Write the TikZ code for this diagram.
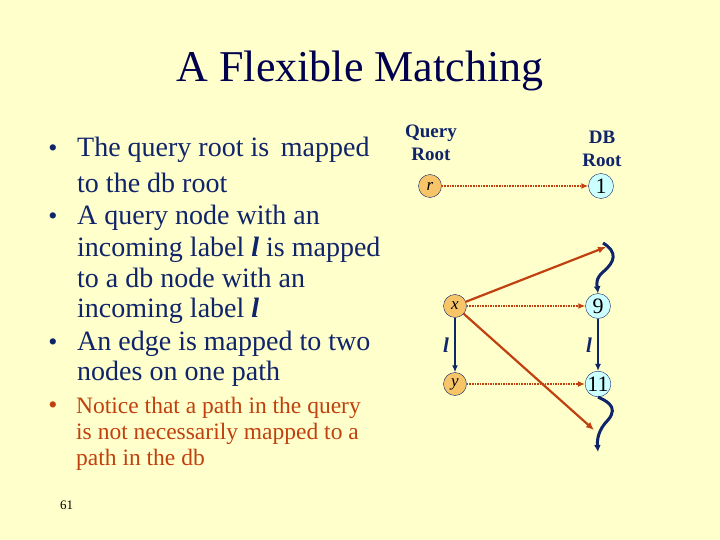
\documentclass[tikz,border=0pt]{standalone}
\usepackage{fontspec}
\setmainfont{Liberation Serif}
\usetikzlibrary{arrows.meta}
\definecolor{bg}{HTML}{FFFFCC}
\definecolor{navy}{HTML}{10246A}
\definecolor{dnavy}{HTML}{00004F}
\definecolor{rust}{HTML}{C0400F}
\definecolor{qfill}{HTML}{F8C468}
\definecolor{dfill}{HTML}{CCFFFF}
\tikzset{
  body/.style={anchor=base west,inner sep=0pt,text=navy,font=\fontsize{28}{32}\selectfont},
  note/.style={anchor=base west,inner sep=0pt,text=rust,font=\fontsize{23.5}{27}\selectfont},
  bul/.style={anchor=base,inner sep=0pt,font=\fontsize{26}{26}\selectfont},
  qnode/.style={circle,draw=navy,fill=qfill,minimum size=23pt,inner sep=0pt,font=\fontsize{17}{17}\selectfont\itshape},
  dnode/.style={circle,draw=navy,fill=dfill,minimum size=25pt,inner sep=0pt,font=\fontsize{22}{22}\selectfont},
  hdr/.style={align=center,text=navy,font=\fontsize{19}{23}\selectfont\bfseries},
  mapd/.style={rust,densely dotted,line width=1.6pt,-{Latex[length=7pt,width=6pt]}},
  maps/.style={rust,line width=2.2pt,-{Latex[length=8pt,width=7pt]}},
  edge/.style={navy,line width=1.6pt,-{Latex[length=7pt,width=6pt]}},
  wave/.style={navy,line width=3pt,-{Latex[length=7pt,width=7pt]}},
  lbl/.style={text=navy,font=\fontsize{21}{21}\selectfont\bfseries\itshape}
}
\begin{document}
\begin{tikzpicture}[x=1pt,y=-1pt]
\fill[bg] (0,0) rectangle (720,540);
\useasboundingbox (0,0) rectangle (720,540);
\node[text=dnavy,font=\fontsize{44}{48}\selectfont] (title) at (360,71) {A Flexible Matching};
% bullets
\node[bul,text=navy] (b1) at (53,157) {\textbullet};
\node[body] (t1a) at (77,157) {The query root is\, mapped};
\node[body] (t1b) at (77,193) {to the db root};
\node[bul,text=navy] (b2) at (53,225) {\textbullet};
\node[body] (t2a) at (77,225) {A query node with an};
\node[body] (t2b) at (77,256) {incoming label \textbf{\textit{l}} is mapped};
\node[body] (t2c) at (77,287) {to a db node with an};
\node[body] (t2d) at (77,317) {incoming label \textbf{\textit{l}}};
\node[bul,text=navy] (b3) at (53,350) {\textbullet};
\node[body] (t3a) at (77,350) {An edge is mapped to two};
\node[body] (t3b) at (77,380) {nodes on one path};
\node[bul,text=rust] (b4) at (53,413) {\textbullet};
\node[note] (t4a) at (76,413) {Notice that a path in the query};
\node[note] (t4b) at (76,439) {is not necessarily mapped to a};
\node[note] (t4c) at (76,465) {path in the db};
\node[anchor=base west,inner sep=0pt,text=black,font=\fontsize{13}{13}\selectfont] (pg) at (60,509) {61};
% headers
\node[hdr] (qh) at (431,143) {Query\\Root};
\node[hdr] (dh) at (602,149) {DB\\Root};
% nodes
\node[qnode] (r) at (430,186) {r};
\node[dnode] (n1) at (601,186) {1};
\node[qnode] (x) at (455,306) {x};
\node[dnode] (n9) at (598,306) {9};
\node[qnode] (y) at (455,384) {y};
\node[dnode] (n11) at (598,384) {11};
\coordinate (wt) at (603,243);
\coordinate (wb) at (598,452);
\coordinate (ta) at (606,247);
\coordinate (tb) at (594,430);
% edges
\draw[mapd] (r) -- (n1);
\draw[mapd] (x) -- (n9);
\draw[mapd] (y) -- (n11);
\draw[edge] (x) -- node[lbl,left=2pt] {l} (y);
\draw[edge] (n9) -- node[lbl,left=2pt] {l} (n11);
\draw[wave] (wt) .. controls (618,252) and (615,262) .. (603,272) .. controls (595,279) and (597,285) .. (n9.north);
\draw[wave] (n11.south) .. controls (604,400) and (620,406) .. (608,420) .. controls (598,430) and (597,440) .. (wb);
\draw[maps] (x) -- (ta);
\draw[maps] (x) -- (tb);
\end{tikzpicture}
\end{document}
